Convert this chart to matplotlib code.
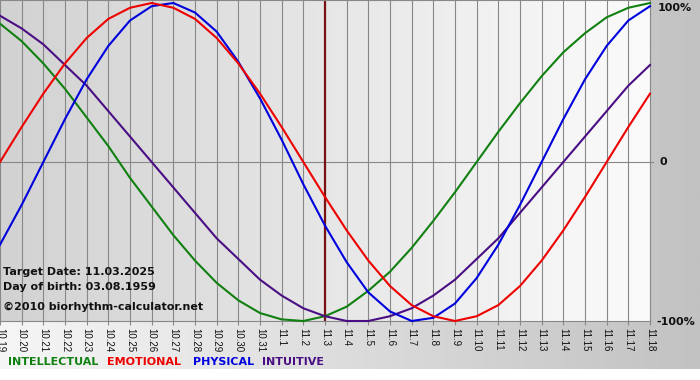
import numpy as np
import matplotlib
matplotlib.use("Agg")
import matplotlib.pyplot as plt
from matplotlib.colors import LinearSegmentedColormap

# ---- data (-1 .. 1) ----
day_labels = ["10.19", "10.20", "10.21", "10.22", "10.23", "10.24", "10.25", "10.26",
              "10.27", "10.28", "10.29", "10.30", "10.31", "11.1", "11.2", "11.3",
              "11.4", "11.5", "11.6", "11.7", "11.8", "11.9", "11.10", "11.11",
              "11.12", "11.13", "11.14", "11.15", "11.16", "11.17", "11.18"]
intellectual = [0.87, 0.76, 0.62, 0.46, 0.28, 0.10, -0.10, -0.28, -0.46, -0.62, -0.76,
                -0.87, -0.95, -0.99, -1.00, -0.97, -0.91, -0.81, -0.69, -0.54, -0.37,
                -0.19, 0.00, 0.19, 0.37, 0.54, 0.69, 0.81, 0.91, 0.97, 1.00]
emotional = [0.00, 0.22, 0.43, 0.62, 0.78, 0.90, 0.97, 1.00, 0.97, 0.90, 0.78, 0.62,
             0.43, 0.22, 0.00, -0.22, -0.43, -0.62, -0.78, -0.90, -0.97, -1.00, -0.97,
             -0.90, -0.78, -0.62, -0.43, -0.22, 0.00, 0.22, 0.43]
physical = [-0.52, -0.27, 0.00, 0.27, 0.52, 0.73, 0.89, 0.98, 1.00, 0.94, 0.82, 0.63,
            0.40, 0.14, -0.14, -0.40, -0.63, -0.82, -0.94, -1.00, -0.98, -0.89, -0.73,
            -0.52, -0.27, 0.00, 0.27, 0.52, 0.73, 0.89, 0.98]
intuitive = [0.92, 0.84, 0.74, 0.61, 0.48, 0.32, 0.16, 0.00, -0.16, -0.32, -0.48, -0.61,
             -0.74, -0.84, -0.92, -0.97, -1.00, -1.00, -0.97, -0.92, -0.84, -0.74, -0.61,
             -0.48, -0.32, -0.16, 0.00, 0.16, 0.32, 0.48, 0.61]
target_day = "11.3"
series_names = ["INTELLECTUAL", "EMOTIONAL", "PHYSICAL", "INTUITIVE"]
info_lines = ["Target Date: 11.03.2025", "Day of birth: 03.08.1959",
              "\u00a92010 biorhythm-calculator.net"]
y_labels = ["100%", "0", "-100%"]

W, H = 700, 380
fig = plt.figure(figsize=(W / 100, H / 100), dpi=100)
fig.patch.set_facecolor("white")

def fx(px):
    return px / W

def fy(py):
    return 1 - py / H

# outer background gradient (light left -> gray right)
bg = fig.add_axes([0, fy(369), 1, 369 / H], zorder=0)
bg.imshow(np.linspace(0, 1, 256)[None, :], aspect="auto",
          cmap=LinearSegmentedColormap.from_list("o", ["#f6f6f6", "#c2c2c2"]),
          extent=[0, 1, 0, 1])
bg.set_axis_off()

# main plot area
ax_left, ax_right, ax_top, ax_bot = 0, 650, 0, 321
ax = fig.add_axes([fx(ax_left), fy(ax_bot), (ax_right - ax_left) / W, (ax_bot - ax_top) / H],
                  zorder=1)
n = len(day_labels)
x = np.arange(n)
ymin, ymax = -1.0, 1.0 + 3 / 159
ax.set_xlim(0, n - 1)
ax.set_ylim(ymin, ymax)
ax.imshow(np.linspace(0, 1, 256)[None, :], aspect="auto",
          cmap=LinearSegmentedColormap.from_list("p", ["#d2d2d2", "#fbfbfb"]),
          extent=[0, n - 1, ymin, ymax], zorder=0)

for xi in x:
    ax.axvline(xi, color="#888888", lw=0.8, zorder=1)
ax.axhline(0, color="#888888", lw=0.8, zorder=1)
ax.axvline(day_labels.index(target_day), color="#7a1212", lw=1.6, zorder=2)

colors = {"INTELLECTUAL": "#108010", "EMOTIONAL": "#ee0000",
          "PHYSICAL": "#0000dd", "INTUITIVE": "#4a0e84"}
for name, vals in [("INTELLECTUAL", intellectual), ("INTUITIVE", intuitive),
                   ("PHYSICAL", physical), ("EMOTIONAL", emotional)]:
    ax.plot(x, vals, color=colors[name], lw=1.5, zorder=3, clip_on=False,
            solid_joinstyle="round")

ax.spines["left"].set_visible(False)
for s in ["top", "bottom", "right"]:
    ax.spines[s].set_color("#888888")
    ax.spines[s].set_linewidth(0.8)
ax.set_xticks(x)
ax.set_xticklabels(day_labels, rotation=-90, fontsize=7, family="Liberation Sans",
                   color="#111111")
ax.tick_params(axis="x", length=3, width=0.8, color="#888888", pad=2)
ax.set_yticks([])

# right side labels
for lab, px, py in zip(y_labels, [658, 659, 656], [8, 162, 322]):
    fig.text(fx(px), fy(py), lab, fontsize=8, fontweight="bold", va="center", ha="left",
             family="DejaVu Sans", color="#111111")
ax.plot([n - 1, n - 1 + 0.12], [0, 0], color="#888888", lw=0.8, clip_on=False)

# info text
for line, py in zip(info_lines, [272, 287, 307]):
    fig.text(fx(3), fy(py), line, fontsize=8, fontweight="bold", va="center", ha="left",
             family="DejaVu Sans", color="#111111", zorder=5)

# legend
for name, px in zip(series_names, [8, 107, 193, 262]):
    fig.text(fx(px), fy(362), name, fontsize=8, fontweight="bold", va="center", ha="left",
             family="DejaVu Sans", color=colors[name])

fig.savefig("out.png", dpi=100)
